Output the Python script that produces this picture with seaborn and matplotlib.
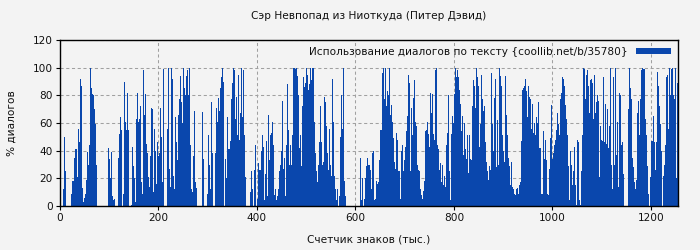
import numpy as np
import pandas as pd
import matplotlib
matplotlib.use("Agg")
import matplotlib.pyplot as plt
import seaborn as sns

title = "Сэр Невпопад из Ниоткуда (Питер Дэвид)"
xlabel = "Счетчик знаков (тыс.)"
ylabel = "% диалогов"
legend_label = "Использование диалогов по тексту {coollib.net/b/35780}"
x_ticks = [0, 200, 400, 600, 800, 1000, 1200]
y_ticks = [0, 20, 40, 60, 80, 100, 120]
x_max = 1255

seg1 = [0, 0, 0, 12, 50, 25, 0, 0, 0, 0,
        0, 9, 18, 18, 35, 41, 41, 21, 56, 46,
        92, 87, 13, 3, 6, 9, 19, 39, 30, 44,
        100, 85, 81, 80, 70, 59, 30, 0, 0, 0,
        0, 0, 0, 0, 0, 0, 0, 0, 42, 34,
        20, 39, 7, 4, 5, 0, 0, 0, 35, 52,
        64, 55, 0, 9, 90, 61, 55, 82, 55, 0,
        0, 1, 43, 29, 20, 3, 63, 82, 61, 63,
        72, 17, 9, 98, 66, 81, 45, 38, 21, 14,
        36, 71, 70, 10, 56, 40, 16, 46, 36, 38]
seg2 = [71, 50, 17, 99, 0, 0, 0, 56, 100, 27,
        14, 100, 92, 22, 12, 64, 46, 33, 66, 77,
        94, 75, 60, 100, 85, 80, 94, 98, 80, 100,
        44, 12, 10, 36, 69, 17, 13, 0, 0, 0,
        0, 0, 68, 34, 0, 0, 0, 9, 51, 30,
        12, 75, 38, 0, 0, 38, 71, 61, 78, 69,
        85, 93, 100, 90, 0, 34, 20, 64, 41, 41,
        47, 77, 89, 100, 98, 63, 79, 51, 95, 48,
        67, 100, 64, 98, 51, 21, 0, 0, 0, 0,
        10, 25, 12, 0, 26, 44, 0, 5, 31, 26,
        26, 40, 51, 43, 4, 23, 47, 7]
seg3 = [66, 33, 51, 53, 61, 44, 8, 12, 4, 7,
        12, 25, 30, 40, 76, 27, 35, 7, 44, 88,
        55, 30, 44, 30, 51, 100, 100, 99, 100, 94,
        80, 42, 51, 29, 72, 93, 86, 89, 100, 95,
        84, 88, 100, 91, 100, 100, 61, 38, 25, 17,
        30, 46, 72, 46, 30, 32, 79, 75, 58, 38,
        26, 56, 30, 22, 92, 61, 22, 12, 4, 12,
        0, 7, 50, 80, 56, 100, 18, 7, 0, 0,
        0, 0, 0, 0, 0, 0, 0, 0, 0, 0,
        0, 0, 35, 4, 20, 0, 5, 20, 29, 35,
        30, 26, 12, 38, 40]
seg4 = [4, 5, 18, 16, 17, 33, 55, 55, 96, 100,
        77, 100, 72, 83, 80, 100, 66, 73, 61, 49,
        32, 27, 53, 48, 25, 25, 5, 40, 44, 25,
        33, 43, 54, 65, 95, 89, 25, 71, 51, 78,
        91, 61, 58, 30, 26, 25, 12, 8, 5, 11,
        18, 54, 55, 61, 52, 43, 82, 67, 81, 52,
        48, 98, 100, 44, 41, 26, 31, 17, 30, 15,
        22, 14, 44, 53, 80, 25, 4, 52, 65, 60,
        81, 100, 93, 98, 93, 84, 74, 54, 65, 37,
        60, 41, 34, 51, 24, 51, 34, 33, 72, 91,
        87, 71, 100, 93, 87]
seg5 = [43, 59, 95, 77, 69, 72, 46, 32, 25, 19,
        29, 26, 96, 59, 40, 78, 92, 28, 62, 30,
        100, 94, 87, 51, 40, 32, 94, 66, 51, 35,
        29, 15, 32, 14, 12, 9, 8, 12, 13, 9,
        15, 17, 47, 84, 85, 87, 92, 83, 64, 87,
        79, 77, 56, 74, 53, 60, 51, 64, 60, 75,
        42, 42, 9, 9, 54, 34, 48, 33, 9, 8,
        27, 49, 73, 34, 38, 44, 48, 55, 67, 59,
        51, 77, 82, 93, 92, 87, 73, 63, 51, 29,
        4, 40, 30, 15, 25, 43, 15, 1, 48, 46,
        4, 1, 25, 51, 100]
seg6 = [99, 77, 95, 98, 87, 67, 91, 92, 89, 63,
        95, 67, 75, 80, 76, 21, 58, 48, 47, 93,
        46, 74, 45, 70, 42, 58, 100, 30, 12, 93,
        30, 100, 37, 61, 14, 82, 80, 44, 46, 23,
        0, 0, 0, 0, 70, 100, 85, 77, 35, 28,
        17, 12, 19, 67, 76, 51, 77, 98, 100, 99,
        99, 63, 51, 29, 9, 0, 21, 47, 47, 65,
        46, 26, 46, 97, 87, 72, 59, 40, 0, 22,
        30, 44, 93, 95, 56, 100, 80, 99, 100, 80,
        77, 100, 20, 89]

dialog_pct = seg1 + seg2 + seg3 + seg4 + seg5 + seg6

n = len(dialog_pct)
step = x_max / n
centers = (np.arange(n) + 0.5) * step
df = pd.DataFrame({"chars": centers, "pct": dialog_pct})

bg = "#f3f3f3"
bar_color = "#0a47ad"
fs = 7.6

sns.set_theme(style="white")
plt.rcParams["font.family"] = ["DejaVu Sans"]

fig = plt.figure(figsize=(7, 2.5), dpi=100, facecolor=bg)
ax = fig.add_axes([60 / 700, 1 - 206 / 250, 618 / 700, 166 / 250])
ax.set_facecolor(bg)

sns.histplot(data=df, x="chars", weights="pct", bins=n, binrange=(0, x_max),
             stat="count", element="bars", fill=True, color=bar_color,
             alpha=1, linewidth=0, antialiased=False, ax=ax,
             label=legend_label)

ax.set_xlim(0, x_max)
ax.set_ylim(0, 120)
ax.set_xticks(x_ticks)
ax.set_yticks(y_ticks)
ax.set_axisbelow(True)
ax.grid(True, color="#a0a0a0", linestyle=(0, (3, 2.5)), linewidth=0.75)
for s in ax.spines.values():
    s.set_visible(True)
    s.set_color("black")
    s.set_linewidth(1.0)
ax.tick_params(axis="both", direction="out", length=3, width=0.8,
               color="black", labelsize=fs, labelcolor="#111111", pad=2,
               bottom=True, left=True)

ax.set_xlabel(xlabel, fontsize=fs, labelpad=8, color="#111111")
ax.set_ylabel(ylabel, fontsize=fs, labelpad=12, color="#111111")
ax.set_title(title, fontsize=fs, pad=15, color="#111111")

ax.legend(loc="upper right", frameon=False, markerfirst=False, fontsize=fs,
          handlelength=3.3, handleheight=0.55, borderaxespad=0.25,
          handletextpad=0.8, labelcolor="#111111")

fig.savefig("out.png", dpi=100, facecolor=bg)
